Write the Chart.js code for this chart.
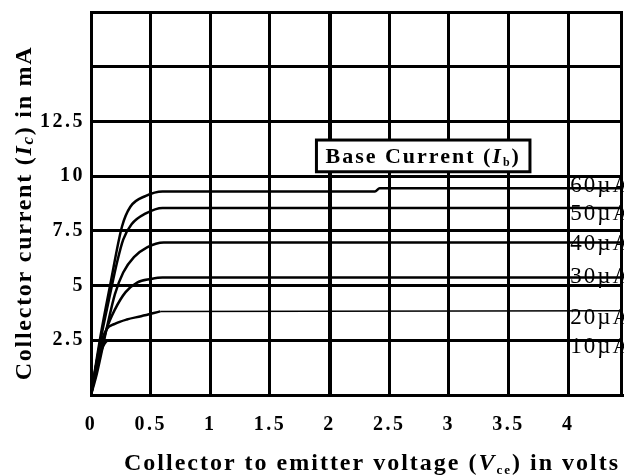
<!DOCTYPE html>
<html>
<head>
<meta charset="utf-8">
<script src="https://cdn.jsdelivr.net/npm/chart.js@4.4.1/dist/chart.umd.min.js"></script>
<style>
  html, body { margin: 0; padding: 0; background: #fff; }
  canvas { display: block; }
</style>
</head>
<body>
<canvas id="icChart" width="624" height="476"></canvas>
<script>
// tick labels
const yTickLabels = [2.5, 5, 7.5, 10, 12.5];

// collector curves: Vce in volts, Ic in mA
const vce60 = [0, 0.08, 0.16, 0.26, 0.33, 0.46, 0.6, 2.38, 2.42, 4.5];
const ic60  = [0, 2.7, 5.0, 7.7, 8.6, 9.1, 9.3, 9.3, 9.45, 9.45];
const vce50 = [0, 0.08, 0.16, 0.22, 0.27, 0.34, 0.46, 0.6, 4.5];
const ic50  = [0, 2.5, 4.6, 6.1, 7.1, 7.8, 8.3, 8.55, 8.55];
const vce40 = [0, 0.05, 0.13, 0.2, 0.27, 0.36, 0.47, 0.61, 4.5];
const ic40  = [0, 1.0, 3.0, 4.6, 5.6, 6.3, 6.75, 6.97, 6.97];
const vce30 = [0, 0.06, 0.13, 0.2, 0.29, 0.39, 0.5, 0.6, 4.5];
const ic30  = [0, 1.5, 3.0, 3.9, 4.7, 5.15, 5.3, 5.37, 5.37];
const vce20 = [0, 0.07, 0.13, 0.2, 0.3, 0.42, 0.58];
const ic20  = [0, 2.1, 3.0, 3.25, 3.45, 3.6, 3.82];
const vce20b = [0.58, 4.5];   // thin continuation of the 20µA line
const ic20b  = [3.82, 3.85];
const vce10 = [0, 0.05, 0.1, 0.15, 2.25];
const ic10  = [0, 1.3, 2.2, 2.5, 2.5];

// curve names on the right and where they sit on the Ic axis
const curveNames = ['60µA', '50µA', '40µA', '30µA', '20µA', '10µA'];
const nameLevels = [9.55, 8.25, 6.9, 5.4, 3.5, 2.2];

const serif = '"Liberation Serif", "Times New Roman", serif';

function pts(xs, ys) {
  return xs.map((x, i) => ({ x: x, y: ys[i] }));
}

function curve(xs, ys, w) {
  return {
    data: pts(xs, ys),
    borderColor: '#000',
    borderWidth: w || 2.5,
    pointRadius: 0,
    fill: false,
    cubicInterpolationMode: 'monotone'
  };
}

// draws pieces of text with different fonts one after another
function drawRich(ctx, parts, x, y, align) {
  let total = 0;
  parts.forEach(p => { ctx.font = p.f; p.w = ctx.measureText(p.t).width; total += p.w; });
  let cx = align === 'center' ? x - total / 2 : x;
  ctx.textAlign = 'left';
  ctx.textBaseline = 'alphabetic';
  parts.forEach(p => {
    ctx.font = p.f;
    ctx.fillText(p.t, cx, y + (p.dy || 0));
    cx += p.w;
  });
}

const extras = {
  id: 'extras',
  beforeDraw(chart) {
    chart.ctx.letterSpacing = '2.5px';  // tick labels are widely spaced
  },
  afterDraw(chart) {
    const { ctx, chartArea, scales: { x, y } } = chart;
    ctx.save();
    ctx.fillStyle = '#000';
    ctx.strokeStyle = '#000';

    // right edge of the frame
    ctx.lineWidth = 3;
    ctx.beginPath();
    ctx.moveTo(chartArea.right - 1.5, chartArea.top);
    ctx.lineTo(chartArea.right - 1.5, chartArea.bottom);
    ctx.stroke();

    // Base Current box
    const bx1 = x.getPixelForValue(1.89), bx2 = x.getPixelForValue(3.68);
    const by1 = y.getPixelForValue(11.65), by2 = y.getPixelForValue(10.2);
    ctx.fillStyle = '#fff';
    ctx.fillRect(bx1, by1, bx2 - bx1, by2 - by1);
    ctx.lineWidth = 3;
    ctx.strokeRect(bx1, by1, bx2 - bx1, by2 - by1);
    ctx.fillStyle = '#000';
    ctx.letterSpacing = '2px';
    drawRich(ctx, [
      { t: 'Base Current (', f: 'bold 22px ' + serif },
      { t: 'I', f: 'bold italic 22px ' + serif },
      { t: 'b', f: 'bold 12px ' + serif, dy: 3 },
      { t: ')', f: 'bold 22px ' + serif }
    ], (bx1 + bx2) / 2, by2 - 9, 'center');

    // curve names
    ctx.letterSpacing = '2px';
    ctx.font = '23px ' + serif;
    ctx.textAlign = 'left';
    ctx.textBaseline = 'middle';
    const nx = x.getPixelForValue(4) + 2;
    curveNames.forEach((n, i) => {
      ctx.fillText(n, nx, y.getPixelForValue(nameLevels[i]));
    });

    // axis titles
    ctx.letterSpacing = '2px';
    drawRich(ctx, [
      { t: 'Collector to emitter voltage (', f: 'bold 24px ' + serif },
      { t: 'V', f: 'bold italic 24px ' + serif },
      { t: 'ce', f: 'bold 13px ' + serif, dy: 4 },
      { t: ') in volts', f: 'bold 24px ' + serif }
    ], 372, 470, 'center');

    ctx.letterSpacing = '1.75px';
    ctx.translate(31, 213);
    ctx.rotate(-Math.PI / 2);
    drawRich(ctx, [
      { t: 'Collector current (', f: 'bold 24px ' + serif },
      { t: 'I', f: 'bold italic 24px ' + serif },
      { t: 'c', f: 'bold italic 17px ' + serif, dy: 2 },
      { t: ') in mA', f: 'bold 24px ' + serif }
    ], 0, 0, 'center');
    ctx.restore();
  }
};

const tickFont = { family: serif, size: 20, weight: 'bold' };

new Chart(document.getElementById('icChart'), {
  type: 'line',
  data: {
    datasets: [
      curve(vce60, ic60),
      curve(vce50, ic50),
      curve(vce40, ic40),
      curve(vce30, ic30),
      curve(vce20, ic20),
      curve(vce20b, ic20b, 1.5),
      curve(vce10, ic10)
    ]
  },
  options: {
    responsive: false,
    animation: false,
    devicePixelRatio: 1,
    layout: { padding: { top: 12, right: 1, left: 0, bottom: 0 } },
    plugins: {
      legend: { display: false },
      tooltip: { enabled: false }
    },
    scales: {
      x: {
        type: 'linear',
        min: 0,
        max: 4.46,
        afterFit(scale) {
          scale.height = 81;
          scale.paddingLeft = 0;
          scale.paddingRight = 0;
        },
        ticks: {
          stepSize: 0.5,
          includeBounds: false,
          color: '#000',
          font: tickFont,
          padding: 18,
          maxRotation: 0,
          callback: v => String(v)
        },
        grid: {
          color: '#000',
          lineWidth: c => (c.tick && c.tick.value === 2 ? 4 : 3),
          drawTicks: false
        },
        border: { color: '#000', width: 3 }
      },
      y: {
        type: 'linear',
        min: 0,
        max: 17.5,
        afterFit(scale) {
          scale.width = 91;
          scale.paddingTop = 0;
          scale.paddingBottom = 0;
        },
        ticks: {
          stepSize: 2.5,
          color: '#000',
          font: tickFont,
          padding: 6,
          callback: v => (yTickLabels.includes(v) ? String(v) : '')
        },
        grid: { color: '#000', lineWidth: 3, drawTicks: false },
        border: { color: '#000', width: 3 }
      }
    }
  },
  plugins: [extras]
});
</script>
</body>
</html>
